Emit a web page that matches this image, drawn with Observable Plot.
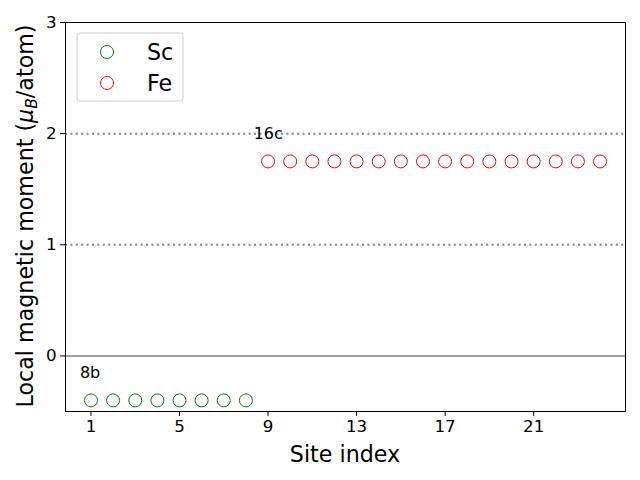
<!DOCTYPE html>
<html>
<head>
<meta charset="utf-8">
<script src="https://cdn.jsdelivr.net/npm/d3@7"></script>
<script src="https://cdn.jsdelivr.net/npm/@observablehq/plot@0.6"></script>
<style>
  html, body { margin: 0; padding: 0; background: #fff; }
  svg { font-family: "DejaVu Sans", sans-serif; }
</style>
</head>
<body>
<div id="chart"></div>
<script>
const scSites = [1, 2, 3, 4, 5, 6, 7, 8];
const scValues = [-0.4, -0.4, -0.4, -0.4, -0.4, -0.4, -0.4, -0.4];
const feSites = [9, 10, 11, 12, 13, 14, 15, 16, 17, 18, 19, 20, 21, 22, 23, 24];
const feValues = [1.75, 1.75, 1.75, 1.75, 1.75, 1.75, 1.75, 1.75, 1.75, 1.75, 1.75, 1.75, 1.75, 1.75, 1.75, 1.75];
const seriesNames = ["Sc", "Fe"];
const seriesColors = ["green", "red"];
const xTicks = [1, 5, 9, 13, 17, 21];
const yTicks = [0, 1, 2, 3];
const gridValues = [1, 2];
const annotLabels = ["8b", "16c"];
const annotX = [0.5, 8.35];
const annotY = [-0.15, 2.0];

const sc = scSites.map((s, i) => ({site: s, m: scValues[i]}));
const fe = feSites.map((s, i) => ({site: s, m: feValues[i]}));
const annots = annotLabels.map((t, i) => ({t, x: annotX[i], y: annotY[i]}));

const plot = Plot.plot({
  width: 640,
  height: 480,
  marginLeft: 65,
  marginRight: 15,
  marginTop: 22,
  marginBottom: 69,
  style: {fontFamily: "DejaVu Sans, sans-serif", fontSize: "16.7px", color: "black", background: "white"},
  x: {domain: [-0.15, 25.15], label: null},
  y: {domain: [-0.5, 3], label: null},
  marks: [
    Plot.ruleY(gridValues, {stroke: "#808080", strokeWidth: 2, strokeDasharray: "2,3.4"}),
    Plot.ruleY([0], {stroke: "#808080", strokeWidth: 1.5}),
    Plot.dot(sc, {x: "site", y: "m", r: 6.5, stroke: seriesColors[0], fill: "none", strokeWidth: 1}),
    Plot.dot(fe, {x: "site", y: "m", r: 6.5, stroke: seriesColors[1], fill: "none", strokeWidth: 1}),
    Plot.text(annots, {x: "x", y: "y", text: "t", textAnchor: "start", fontSize: 16, fill: "black"}),
    Plot.axisX({ticks: xTicks, tickSize: 4.9, tickPadding: 4, fontSize: 16.7, tickFormat: d3.format("d"), label: null}),
    Plot.axisY({ticks: yTicks, tickSize: 4.9, tickPadding: 4, fontSize: 16.7, tickFormat: d3.format("d"), label: null}),
    Plot.frame({stroke: "black", strokeWidth: 1})
  ]
});
document.getElementById("chart").appendChild(plot);

const svg = d3.select(plot);
// axis labels
svg.append("text")
  .attr("x", 345).attr("y", 462)
  .attr("text-anchor", "middle")
  .attr("font-size", 22.2)
  .attr("fill", "black")
  .text("Site index");

const yl = svg.append("text")
  .attr("transform", "translate(33,216) rotate(-90)")
  .attr("text-anchor", "middle")
  .attr("font-size", 22.2)
  .attr("fill", "black");
yl.append("tspan").text("Local magnetic moment (");
yl.append("tspan").attr("font-style", "italic").text("μ");
yl.append("tspan").attr("font-style", "italic").attr("font-size", 15.5).attr("dy", 4).text("B");
yl.append("tspan").attr("dy", -4).text("/atom)");

// legend
const lg = svg.append("g");
lg.append("rect")
  .attr("x", 77).attr("y", 33).attr("width", 106).attr("height", 68)
  .attr("rx", 3).attr("fill", "white").attr("fill-opacity", 0.8)
  .attr("stroke", "#cccccc").attr("stroke-width", 1);
seriesNames.forEach((name, i) => {
  const cy = 52 + i * 31;
  lg.append("circle").attr("cx", 107).attr("cy", cy).attr("r", 6.5)
    .attr("fill", "none").attr("stroke", seriesColors[i]).attr("stroke-width", 1);
  lg.append("text").attr("x", 147).attr("y", cy + 7.5)
    .attr("text-anchor", "start")
    .attr("font-size", 22.2).attr("fill", "black").text(name);
});
</script>
</body>
</html>
